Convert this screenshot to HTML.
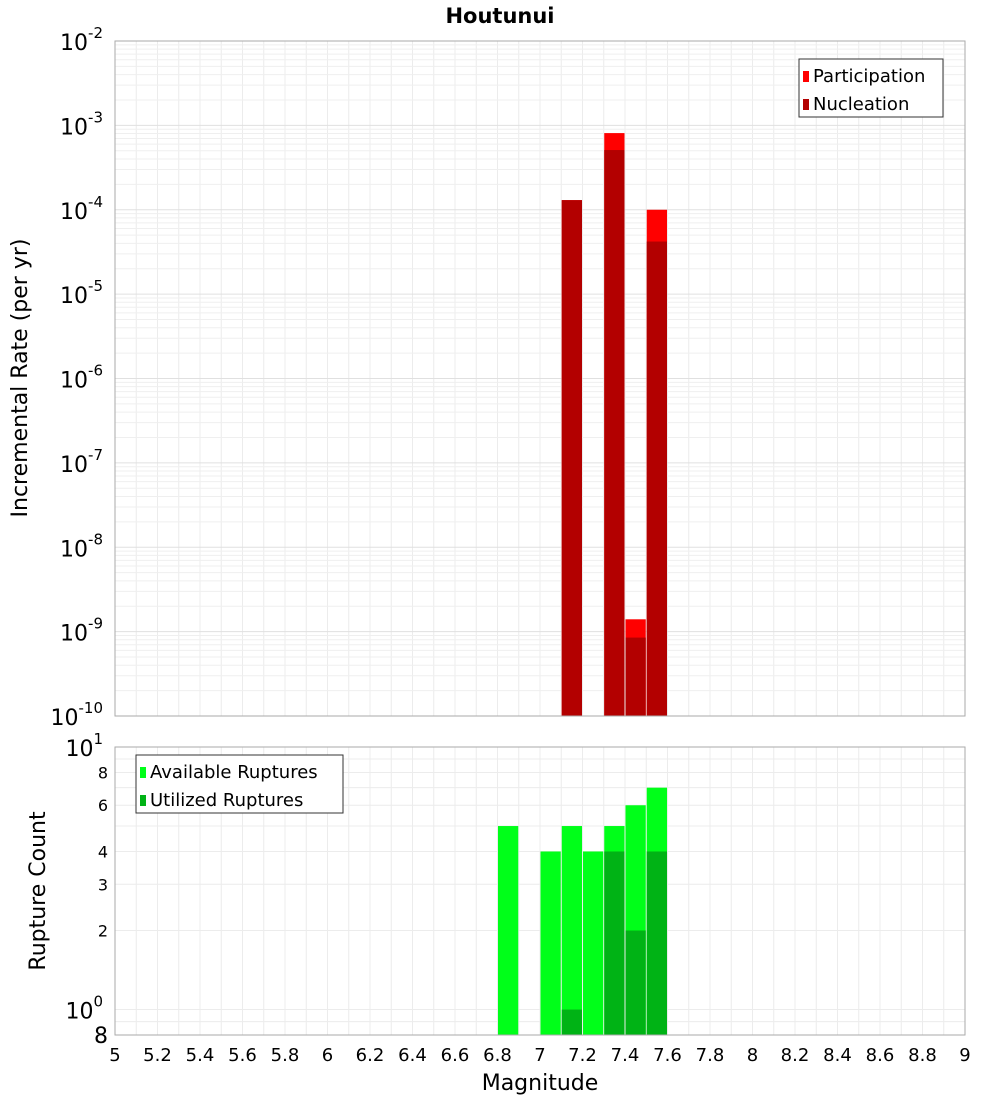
<!DOCTYPE html>
<html><head><meta charset="utf-8"><style>
body{margin:0;background:#fff;font-family:"Liberation Sans","DejaVu Sans",sans-serif}
svg text{font-family:"DejaVu Sans","Liberation Sans",sans-serif}
</style></head><body>
<svg id="c" width="1000" height="1100" xmlns="http://www.w3.org/2000/svg">
<text x="500" y="23" text-anchor="middle" font-size="21" font-weight="bold">Houtunui</text>
<text transform="translate(27,378) rotate(-90)" text-anchor="middle" font-size="22">Incremental Rate (per yr)</text>
<text transform="translate(45,891) rotate(-90)" text-anchor="middle" font-size="22">Rupture Count</text>
<text x="540" y="1090" text-anchor="middle" font-size="22">Magnitude</text>
<g id="g"></g>
</svg>
<script>
const binStarts=[6.8,7.0,7.1,7.2,7.3,7.4,7.5];
const available=[5,4,5,4,5,6,7];
const utilizedBins=[7.1,7.3,7.4,7.5];
const utilized=[1,4,2,4];
const rateBins=[7.1,7.3,7.4,7.5];
const participation=[1.3e-4,8.1e-4,1.4e-9,1.0e-4];
const nucleation=[1.3e-4,5.1e-4,8.5e-10,4.2e-5];
const xTicks=[5,5.2,5.4,5.6,5.8,6,6.2,6.4,6.6,6.8,7,7.2,7.4,7.6,7.8,8,8.2,8.4,8.6,8.8,9];
const topExp=[-10,-9,-8,-7,-6,-5,-4,-3,-2];
const botTicks=[8,6,4,3,2];

const NS="http://www.w3.org/2000/svg";
const g=document.getElementById('g');
function el(t,a,p){const e=document.createElementNS(NS,t);for(const k in a)e.setAttribute(k,a[k]);(p||g).appendChild(e);return e;}
const X0=115,X1=965;
const x=m=>X0+(m-5)/4*(X1-X0);
const T0=41,T1=716;
const yT=v=>T0+(-2-Math.log10(v))/8*(T1-T0);
const B0=747,B1=1035;
const yB=v=>B0+(1-Math.log10(v))/(1-Math.log10(0.8))*(B1-B0);

// grids
for(let i=0;i<=40;i++){const xx=x(5+i*0.1);
 const l1=el('line',{x1:xx,x2:xx,y1:T0,y2:T1,stroke:'#ececec'});
 const l2=el('line',{x1:xx,x2:xx,y1:B0,y2:B1,stroke:'#ececec'});}
for(let e=-10;e<-2;e++)for(let k=1;k<10;k++){const yy=yT(k*Math.pow(10,e));
 const l=el('line',{x1:X0,x2:X1,y1:yy,y2:yy,stroke:k==1?'#e0e0e0':'#efefef'});}
[0.8,0.9,1,2,3,4,5,6,7,8,9].forEach(v=>{const yy=yB(v);
 const l=el('line',{x1:X0,x2:X1,y1:yy,y2:yy,stroke:'#ececec'});});

// top bars
rateBins.forEach((b,i)=>{
 const r=el('rect',{x:x(b)+0.5,width:x(b+0.1)-x(b)-1,y:yT(participation[i]),height:T1-yT(participation[i]),fill:'#ff0000'});
 
 const n=el('rect',{x:x(b)+0.5,width:x(b+0.1)-x(b)-1,y:yT(nucleation[i]),height:T1-yT(nucleation[i]),fill:'#b30000'});
 
});
// bottom bars
binStarts.forEach((b,i)=>{
 const r=el('rect',{x:x(b)+0.5,width:x(b+0.1)-x(b)-1,y:yB(available[i]),height:B1-yB(available[i]),fill:'#00ff19'});
 
});
utilizedBins.forEach((b,i)=>{
 const r=el('rect',{x:x(b)+0.5,width:x(b+0.1)-x(b)-1,y:yB(utilized[i]),height:B1-yB(utilized[i]),fill:'#00b315'});
 
});
// frames
let f=el('rect',{x:X0,y:T0,width:X1-X0,height:T1-T0,fill:'none',stroke:'#aaa'});
f=el('rect',{x:X0,y:B0,width:X1-X0,height:B1-B0,fill:'none',stroke:'#aaa'});

// top y tick labels
topExp.forEach(e=>{const yy=yT(Math.pow(10,e));
 const t=el('text',{x:103,y:yy+9,'text-anchor':'end','font-size':22});
 
 t.textContent='10';
 const s=el('tspan',{dy:-12,'font-size':15},t);s.textContent=String(e);
});
// bottom y ticks
[[10,'1'],[1,'0']].forEach(([v,e])=>{const t=el('text',{x:103,y:yB(v)+9,'text-anchor':'end','font-size':22});
 
 t.textContent='10';const s=el('tspan',{dy:-12,'font-size':15},t);s.textContent=e;});
botTicks.forEach(v=>{const t=el('text',{x:108,y:yB(v)+6,'text-anchor':'end','font-size':16});
 t.textContent=String(v);});
{const t=el('text',{x:108,y:yB(0.8)+8,'text-anchor':'end','font-size':22});t.textContent='8';}
// x ticks
xTicks.forEach(v=>{const t=el('text',{x:x(v),y:1061,'text-anchor':'middle','font-size':18});
 t.textContent=String(v);});

// legends
function legend(x0,y0,w,items,name){
 const lg=el('g',{});
 el('rect',{x:x0,y:y0,width:w,height:58,fill:'#fff',stroke:'#333'},lg);
 items.forEach(([c,l],i)=>{el('rect',{x:x0+4,y:y0+12+i*28,width:6,height:11,fill:c},lg);
  const t=el('text',{x:x0+14,y:y0+23+i*28,'font-size':18},lg);t.textContent=l;});
}
legend(799,59,144,[['#ff0000','Participation'],['#b30000','Nucleation']],'top-legend');
legend(136,755,207,[['#00ff19','Available Ruptures'],['#00b315','Utilized Ruptures']],'bottom-legend');
</script>
</body></html>
